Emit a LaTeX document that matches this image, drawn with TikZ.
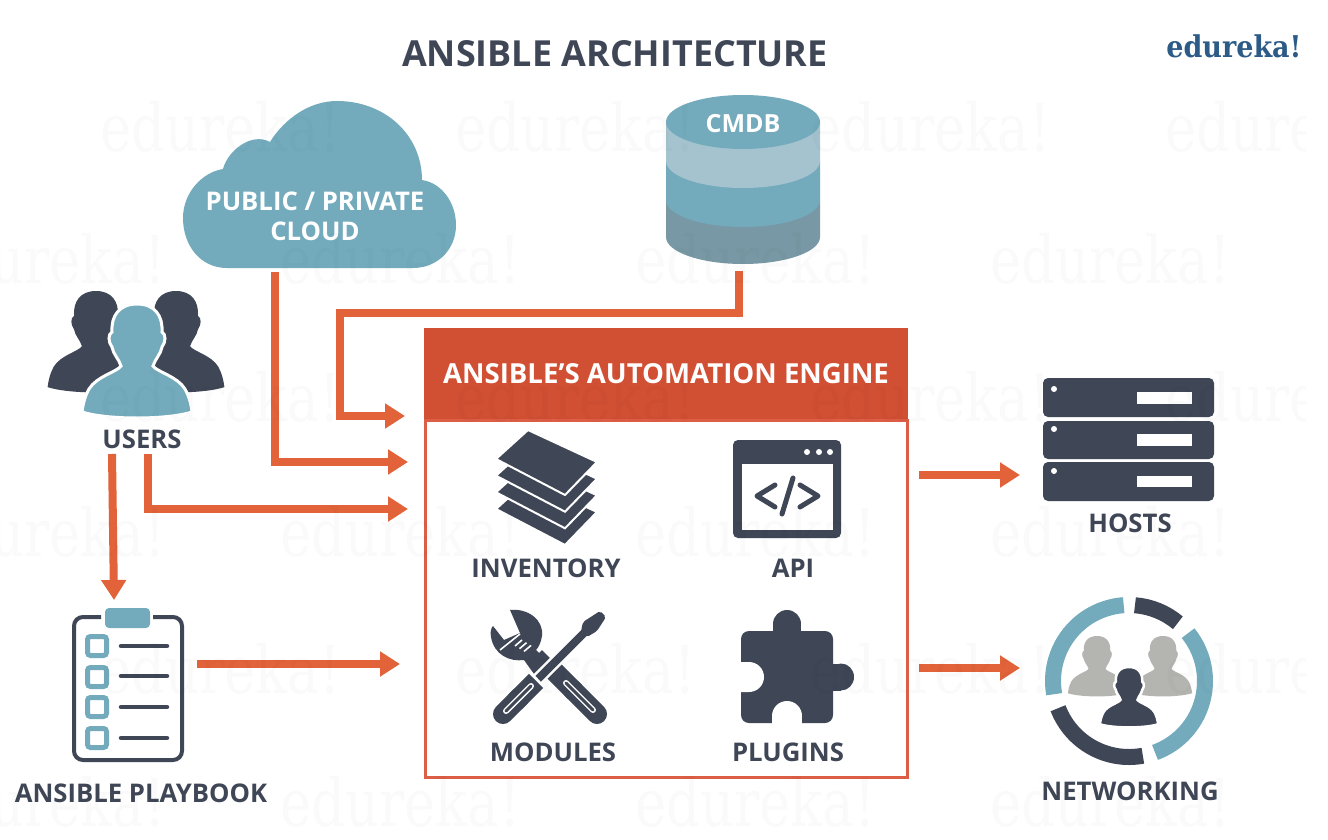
\documentclass[tikz,border=0pt]{standalone}
\usepackage{fontspec}
\setmainfont{Open Sans}
\newfontfamily\logofont[FakeStretch=0.8]{DejaVu Serif}
\newfontfamily\brandfont[FakeStretch=0.9]{DejaVu Serif}
\usetikzlibrary{arrows.meta,calc}
\definecolor{ink}{HTML}{3F4655}
\definecolor{teal}{HTML}{73ABBD}
\definecolor{tealpale}{HTML}{A5C3CF}
\definecolor{tealdark}{HTML}{7898A5}
\definecolor{flow}{HTML}{E2633A}
\definecolor{engine}{HTML}{D14F33}
\definecolor{enginebd}{HTML}{DC5E45}
\definecolor{greyp}{HTML}{B4B5B0}
\definecolor{logoc}{HTML}{2B5B86}
\newcommand\bust[5]{%
  \path[shift={(#1,#2)},xscale=#3,yscale=#4,#5]
    (0,0) .. controls (18,0) and (26,12) .. (25,28)
    .. controls (29,30) and (29,38) .. (25,43)
    .. controls (24,50) and (18,55) .. (16,62)
    .. controls (20,68) and (40,72) .. (48,85)
    .. controls (52,92) and (54,100) .. (55,108)
    .. controls (30,116) and (-30,116) .. (-55,108)
    .. controls (-54,100) and (-52,92) .. (-48,85)
    .. controls (-40,72) and (-20,68) .. (-16,62)
    .. controls (-18,55) and (-24,50) .. (-25,43)
    .. controls (-29,38) and (-29,30) .. (-25,28)
    .. controls (-26,12) and (-18,0) .. (0,0) -- cycle;}
\tikzset{
  lab/.style={font=\fontsize{25.7}{30}\selectfont\bfseries,text=ink,inner sep=0pt,anchor=center},
  whitelab/.style={lab,text=white},
  flowline/.style={draw=flow,line width=8pt},
  flowarrow/.style={flowline,-{Triangle[length=20pt,width=24pt]}},
  wmark/.style={font=\fontsize{66}{72}\selectfont\logofont,text=black,text opacity=.018,inner sep=0pt,anchor=west},
}
\begin{document}
\begin{tikzpicture}[x=1pt,y=-1pt]
\useasboundingbox (0,0) rectangle (1328,840);
\fill[white] (0,0) rectangle (1328,840);

% title and logo
\node[lab,font=\fontsize{35.9}{40}\selectfont\bfseries] (title) at (615,54) {ANSIBLE ARCHITECTURE};
\node[inner sep=0pt,text=logoc,font=\fontsize{30}{34}\selectfont\brandfont\bfseries] (logo) at (1234,46) {edureka!};

% cloud
\fill[teal] (227,268) .. controls (200,268) and (183,245) .. (183,218)
  .. controls (183,192) and (203,172) .. (223,169)
  .. controls (228,150) and (252,132) .. (270,142)
  .. controls (285,118) and (310,101) .. (337,101)
  .. controls (385,101) and (422,135) .. (422,180)
  .. controls (442,183) and (456,203) .. (456,225)
  .. controls (456,250) and (437,268) .. (413,268) -- cycle;
\node[whitelab] (cloud1) at (315,201) {PUBLIC / PRIVATE};
\node[whitelab] (cloud2) at (315,231) {CLOUD};
\coordinate (cloudout) at (275,272);

% CMDB
\fill[tealdark] (666,237) arc[start angle=180,end angle=0,x radius=77,y radius=27] -- (820,200) -- (666,200) -- cycle;
\fill[teal] (666,200) arc[start angle=180,end angle=0,x radius=77,y radius=27] -- (820,161) -- (666,161) -- cycle;
\fill[tealpale] (666,161) arc[start angle=180,end angle=0,x radius=77,y radius=27] -- (820,122) -- (666,122) -- cycle;
\fill[teal] (743,122) ellipse[x radius=77,y radius=27];
\node[whitelab,font=\fontsize{25}{30}\selectfont\bfseries] (cmdb) at (743,124) {CMDB};
\coordinate (cmdbout) at (739,271);

% users
\bust{96}{291}{.88}{.89}{fill=ink}
\bust{176}{291}{.88}{.89}{fill=ink}
\bust{137}{304}{1}{1}{fill=teal,draw=white,line width=3pt}
\node[lab] (users) at (142,439) {USERS};
\coordinate (usersa) at (112,454);
\coordinate (usersb) at (148,454);

% playbook
\draw[ink,line width=4pt,rounded corners=9pt] (101,617) -- (74,617) -- (74,760) -- (182,760) -- (182,617) -- (153,617);
\fill[teal,rounded corners=4pt] (105,608) rectangle (150,628);
\foreach \yy/\ll in {634/646,665/676,695/707,726/738}{
  \draw[teal,line width=5pt,rounded corners=3pt] (87.5,\yy+2.5) rectangle (106.5,\yy+21.5);
  \draw[ink,line width=4.5pt,line cap=round] (121,\ll) -- (167,\ll);
}
\node[lab] (playbook) at (141,793) {ANSIBLE PLAYBOOK};
\coordinate (playout) at (197,664);
\coordinate (playin) at (114,600);

% engine
\fill[engine] (424,328) rectangle (908,420);
\draw[enginebd,line width=3pt] (425,420) rectangle (907,777);
\node[whitelab,font=\fontsize{27.6}{32}\selectfont\bfseries] (engine) at (666,374) {ANSIBLE’S AUTOMATION ENGINE};
\coordinate (inA) at (405,416);
\coordinate (inB) at (408,462);
\coordinate (inC) at (408,509);
\coordinate (inD) at (400,664);
\coordinate (outA) at (919,475);
\coordinate (outB) at (919,668);
\coordinate (hostin) at (1020,475);
\coordinate (netin) at (1020,668);

% inventory
\foreach \dy in {50,33.3,16.7,0}{
  \filldraw[ink,draw=white,line width=2pt,line join=miter,shift={(0,\dy)}]
    (528,430) -- (597,462) -- (565,495) -- (496,459) -- cycle;
}
\node[lab] (inventory) at (546,568) {INVENTORY};

% API
\fill[ink,rounded corners=5pt] (733,440) rectangle (841,538);
\fill[white] (742,464) rectangle (833,530);
\foreach \xx in {807,819,830}{\fill[white] (\xx,452) circle (3pt);}
\draw[ink,line width=5pt,line cap=round,line join=round] (775,485) -- (757,496) -- (775,507);
\draw[ink,line width=5pt,line cap=round,line join=round] (800,485) -- (818,496) -- (800,507);
\draw[ink,line width=5pt,line cap=round] (793,478) -- (782,514);
\node[lab] (api) at (793,568) {API};

% modules: wrench
\fill[ink] (510,610) .. controls (528,608) and (544,620) .. (542,636)
  .. controls (541,643) and (538,648) .. (536,650) -- (548,662) -- (534,674) -- (524,660)
  .. controls (510,662) and (494,655) .. (491,637)
  .. controls (490,632) and (491,628) .. (493,626)
  -- (504,640) -- (520,633) -- cycle;
\draw[white,line width=1.6pt] (500,650) -- (520,634);
\foreach \dd in {0,4.5,9}{
  \draw[white,line width=1.6pt] (515+\dd,646+\dd*.6) -- (522+\dd,640+\dd*.6);
}
\draw[ink,line width=14pt] (537,655) -- (565,683);
\draw[ink,line width=20pt,line cap=round] (597,714) -- (572,689);
\draw[ink,line width=20pt] (575,692) -- (552,669);
\draw[white,line width=6pt,line cap=round] (593,710) -- (566,683);
\draw[ink,line width=3pt,line cap=round] (593,710) -- (566,683);
% modules: screwdriver
\draw[white,line width=13pt] (536,681) -- (585,632);
\draw[ink,line width=8pt] (536,681) -- (585,632);
\draw[white,line width=3pt] (528,670) -- (548,692);
\draw[ink,line width=20pt,line cap=round] (503,714) -- (520,697);
\draw[ink,line width=20pt] (515,702) -- (536,681);
\draw[white,line width=6pt,line cap=round] (506,711) -- (531,686);
\draw[ink,line width=3pt,line cap=round] (506,711) -- (531,686);
\fill[ink,rounded corners=2pt] (581,631) -- (583,622) -- (600,611) -- (606,617) -- (597,631) -- (587,637) -- cycle;
\node[lab] (modules) at (553,752) {MODULES};

% plugins
\fill[ink,rounded corners=8pt] (741,631) rectangle (833,723);
\fill[ink] (787,624) circle (14pt);
\fill[ink] (773,624) rectangle (801,640);
\fill[ink] (841,677) ellipse[x radius=13,y radius=13.5];
\fill[ink] (825,663.5) rectangle (841,690.5);
\fill[white] (738,662) -- (749,662) arc[start angle=-90,end angle=90,radius=15] -- (738,692) -- cycle;
\fill[white] (787,716) circle (15pt);
\fill[white] (772,716) rectangle (802,726);
\node[lab] (plugins) at (788,752) {PLUGINS};

% hosts
\foreach \ya/\yb/\ba/\bb/\dy in {378/417/392/404/389,421/459/434/446/429,462/501/476/487/471}{
  \fill[ink,rounded corners=5pt] (1043,\ya) rectangle (1214,\yb);
  \fill[white] (1137,\ba) rectangle (1192,\bb);
  \fill[white] (1054,\dy) circle (3pt);
}
\node[lab] (hosts) at (1130,523) {HOSTS};

% networking
\bust{1097}{636}{.53}{.53}{fill=greyp}
\bust{1163}{636}{.53}{.53}{fill=greyp}
\bust{1129}{667}{.53}{.53}{fill=ink,draw=white,line width=2.5pt}
\coordinate (ringc) at (1129,681);
\draw[ink,line width=16pt] ($(ringc)+(-85.5:76)$) arc[start angle=-85.5,end angle=-50,radius=76];
\draw[teal,line width=16pt] ($(ringc)+(-39:76)$) arc[start angle=-39,end angle=70,radius=76];
\draw[ink,line width=16pt] ($(ringc)+(79.5:76)$) arc[start angle=79.5,end angle=159,radius=76];
\draw[teal,line width=16pt] ($(ringc)+(170:76)$) arc[start angle=170,end angle=266,radius=76];
\node[lab] (networking) at (1130,791) {NETWORKING};

% connectors
\draw[flowarrow] (cloudout) |- (inB);
\draw[flowarrow] (cmdbout) -- (739,313) -- (340,313) |- (inA);
\draw[flowarrow] (usersb) |- (inC);
\draw[flowarrow] (usersa) -- (playin);
\draw[flowarrow] (playout) -- (inD);
\draw[flowarrow] (outA) -- (hostin);
\draw[flowarrow] (outB) -- (netin);

% watermark
\begin{scope}
\clip (0,0) rectangle (1305,840);
\foreach \yy/\xa in {127/-255,397/-255,669/-255}{
  \foreach \k in {0,1,2,3,4}{
    \node[wmark,name=wa\yy\k] at (\xa+355*\k,\yy) {edureka!};
  }
}
\foreach \yy/\xa in {259/-75,532/-75,802/-75}{
  \foreach \k in {0,1,2,3}{
    \node[wmark,name=wb\yy\k] at (\xa+355*\k,\yy) {edureka!};
  }
}
\end{scope}
\end{tikzpicture}
\end{document}
